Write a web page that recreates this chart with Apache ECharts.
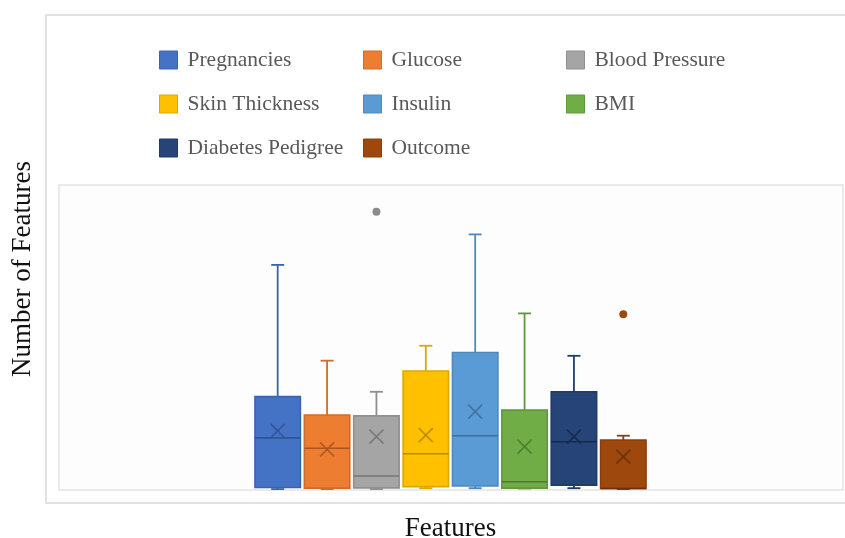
<!DOCTYPE html>
<html>
<head>
<meta charset="utf-8">
<script src="https://cdn.jsdelivr.net/npm/echarts@6/dist/echarts.min.js"></script>
<style>
html,body{margin:0;padding:0;background:#fff;}
#chart{width:845px;height:538px;}
</style>
</head>
<body>
<div id="chart"></div>
<script>
// ---- data ----
const features = ['Pregnancies','Glucose','Blood Pressure','Skin Thickness','Insulin','BMI','Diabetes Pedigree','Outcome'];
const minVals    = [0.3, 0.3, 0.3, 0.6, 0.6, 0.5, 0.6, 0.3];
const q1Vals     = [0.8, 0.6, 0.7, 1.1, 1.3, 0.6, 1.6, 0.5];
const medianVals = [17.1, 13.7, 4.6, 11.9, 17.8, 2.7, 15.8, 0.5];
const q3Vals     = [30.6, 24.6, 24.3, 39.0, 45.1, 26.2, 32.2, 16.4];
const maxVals    = [73.8, 42.4, 32.2, 47.3, 83.8, 57.9, 44.0, 17.8];
const meanVals   = [19.4, 13.3, 17.5, 18.0, 25.7, 14.2, 17.5, 10.9];
const outlierVals= [null, null, 91.2, null, null, null, null, 57.6];

// ---- styles ----
const fillColors   = ['#4472C4','#ED7D31','#A5A5A5','#FFC000','#5B9BD5','#70AD47','#264478','#9E480E'];
const borderColors = ['#3B64AE','#CF6C2A','#8F8F8F','#DDA700','#4F88BC','#62973E','#213B68','#8A3F0C'];
const darkColors   = ['#2F5597','#A9561E','#767676','#B58800','#3F6F9B','#4E7A30','#16294A','#6B300A'];

const fontSerif = '"Liberation Serif","Times New Roman",serif';

function makeRenderItem(i) {
  return function (params, api) {
    const x = api.value(0);
    const pMin = api.coord([x, api.value(1)]);
    const pQ1 = api.coord([x, api.value(2)]);
    const pMed = api.coord([x, api.value(3)]);
    const pQ3 = api.coord([x, api.value(4)]);
    const pMax = api.coord([x, api.value(5)]);
    const pMean = api.coord([x, api.value(6)]);
    const band = api.size([1, 0])[0];
    const bw = band * 0.92;
    const cap = 13;
    const cx = pQ1[0];
    const xs = 7;
    const whiskerStyle = { stroke: borderColors[i], lineWidth: 1.8 };
    const children = [
      { type: 'line', shape: { x1: cx, y1: pMin[1], x2: cx, y2: pQ1[1] }, style: whiskerStyle },
      { type: 'line', shape: { x1: cx - cap / 2, y1: pMin[1], x2: cx + cap / 2, y2: pMin[1] }, style: whiskerStyle },
      { type: 'line', shape: { x1: cx, y1: pQ3[1], x2: cx, y2: pMax[1] }, style: whiskerStyle },
      { type: 'line', shape: { x1: cx - cap / 2, y1: pMax[1], x2: cx + cap / 2, y2: pMax[1] }, style: whiskerStyle },
      { type: 'rect', shape: { x: cx - bw / 2, y: pQ3[1], width: bw, height: pQ1[1] - pQ3[1] },
        style: { fill: fillColors[i], stroke: borderColors[i], lineWidth: 1.6 } },
      { type: 'line', shape: { x1: cx - bw / 2, y1: pMed[1], x2: cx + bw / 2, y2: pMed[1] },
        style: { stroke: darkColors[i], lineWidth: 1.6 } },
      { type: 'line', shape: { x1: pMean[0] - xs, y1: pMean[1] - xs, x2: pMean[0] + xs, y2: pMean[1] + xs },
        style: { stroke: darkColors[i], lineWidth: 1.8, opacity: 0.85 } },
      { type: 'line', shape: { x1: pMean[0] - xs, y1: pMean[1] + xs, x2: pMean[0] + xs, y2: pMean[1] - xs },
        style: { stroke: darkColors[i], lineWidth: 1.8, opacity: 0.85 } }
    ];
    const ov = api.value(7);
    if (!isNaN(ov)) {
      const pO = api.coord([x, ov]);
      children.push({ type: 'circle', shape: { cx: pO[0], cy: pO[1], r: 4 },
        style: { fill: i === 2 ? '#8C8C8C' : fillColors[i], stroke: null } });
    }
    return { type: 'group', children: children };
  };
}

const series = features.map(function (name, i) {
  return {
    name: name,
    type: 'custom',
    xAxisIndex: 2,
    yAxisIndex: 2,
    clip: false,
    silent: true,
    itemStyle: { color: fillColors[i], borderColor: borderColors[i], borderWidth: 1 },
    encode: { x: 0, y: [1, 2, 3, 4, 5, 6, 7] },
    renderItem: makeRenderItem(i),
    data: [[i, minVals[i], q1Vals[i], medianVals[i], q3Vals[i], maxVals[i], meanVals[i],
            outlierVals[i] == null ? '-' : outlierVals[i]]]
  };
});

function legendCol(left, names) {
  return {
    orient: 'vertical',
    left: left,
    top: 49,
    padding: 0,
    itemWidth: 18,
    itemHeight: 18,
    itemGap: 22,
    icon: 'rect',
    selectedMode: false,
    data: names,
    itemStyle: { borderWidth: 1 },
    textStyle: { fontFamily: fontSerif, fontSize: 21.5, color: '#595959', lineHeight: 18, padding: [0, 0, 0, 5] }
  };
}

const chart = echarts.init(document.getElementById('chart'), null, { renderer: 'canvas' });
chart.setOption({
  animation: false,
  backgroundColor: '#ffffff',
  legend: [
    legendCol(159, ['Pregnancies', 'Skin Thickness', 'Diabetes Pedigree']),
    legendCol(363, ['Glucose', 'Insulin', 'Outcome']),
    legendCol(566, ['Blood Pressure', 'BMI'])
  ],
  grid: [
    { left: 46, top: 15, right: -10, bottom: 35, show: true, borderColor: '#d9d9d9', borderWidth: 1.5, backgroundColor: '#ffffff', outerBoundsMode: 'none', containLabel: false },
    { left: 59, top: 185, right: 2, bottom: 48, show: true, borderColor: '#e3e3e3', borderWidth: 1.5, backgroundColor: '#fdfdfd', outerBoundsMode: 'none', containLabel: false },
    { left: 253, top: 185, width: 395, bottom: 48, outerBoundsMode: 'none', containLabel: false },
    { left: 46, top: 35, right: 0, bottom: 35, outerBoundsMode: 'none', containLabel: false }
  ],
  xAxis: [
    { gridIndex: 0, type: 'value', show: false },
    { gridIndex: 1, type: 'value', show: false },
    { gridIndex: 2, type: 'category', data: features,
      name: 'Features', nameLocation: 'middle', nameGap: 25,
      nameTextStyle: { fontFamily: fontSerif, fontSize: 27, color: '#111' },
      axisLine: { show: false }, axisTick: { show: false }, axisLabel: { show: false }, splitLine: { show: false } },
    { gridIndex: 3, type: 'value', show: false }
  ],
  yAxis: [
    { gridIndex: 0, type: 'value', show: false },
    { gridIndex: 1, type: 'value', show: false },
    { gridIndex: 2, type: 'value', min: 0, max: 100,
      axisLine: { show: false }, axisTick: { show: false }, axisLabel: { show: false }, splitLine: { show: false } },
    { gridIndex: 3, type: 'value', min: 0, max: 1,
      name: 'Number of Features', nameLocation: 'middle', nameGap: 10,
      nameTextStyle: { fontFamily: fontSerif, fontSize: 27, color: '#111' },
      axisLine: { show: false }, axisTick: { show: false }, axisLabel: { show: false }, splitLine: { show: false } }
  ],
  series: series
});
</script>
</body>
</html>
